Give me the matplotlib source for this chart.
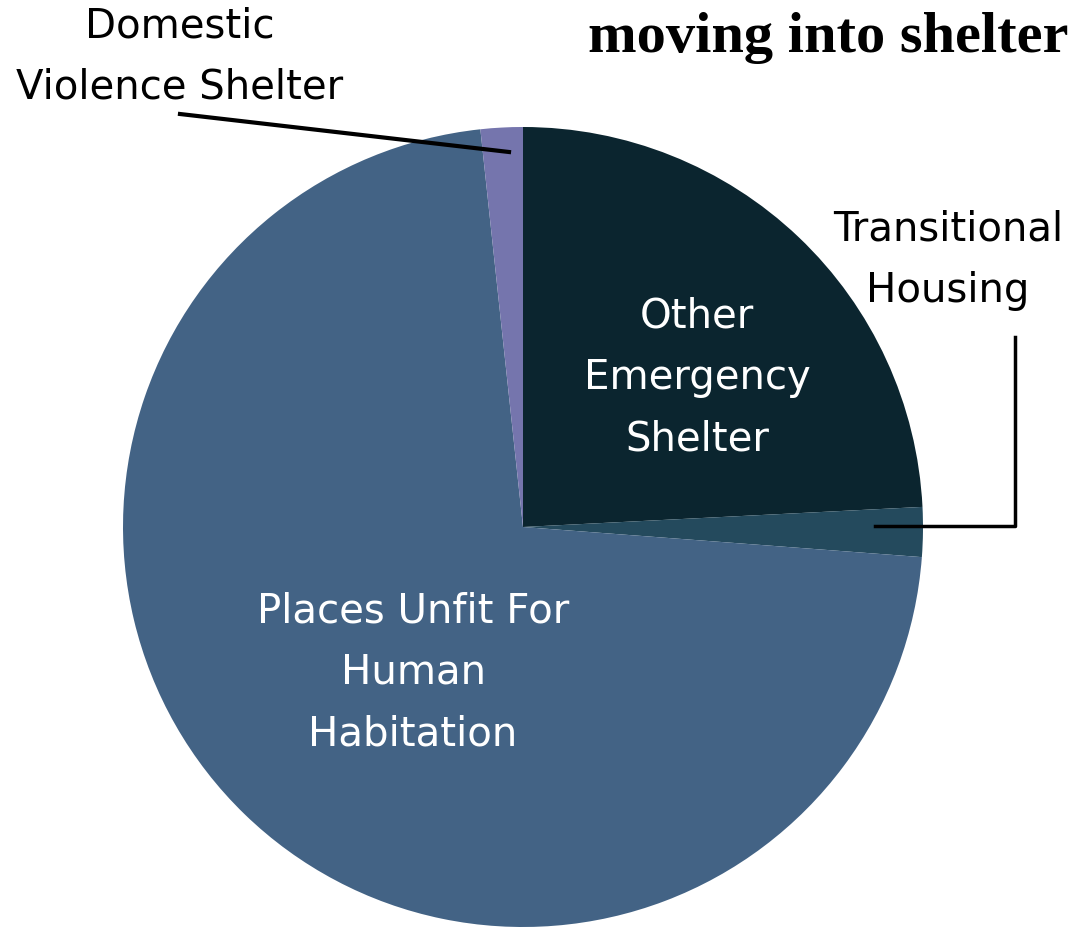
import matplotlib
matplotlib.use('Agg')
import matplotlib.pyplot as plt

# Slice data (percent), clockwise from 12 o'clock
labels = ['Other\nEmergency\nShelter', 'Transitional\nHousing',
          'Places Unfit For\nHuman\nHabitation', 'Domestic\nViolence Shelter']
shares = [24.2, 2.0, 72.1, 1.7]
colors = ['#0b252f', '#244a5d', '#436385', '#7575ad']
title = 'moving into shelter'

W, H = 1071, 928
fig = plt.figure(figsize=(W / 100, H / 100), dpi=100)
ax = fig.add_axes([0, 0, 1, 1])

# pie centre in pixel coords (y measured upward)
cx, cy, r = 523, H - 528, 400
ax.pie(shares, colors=colors, startangle=90, counterclock=False,
       center=(cx, cy), radius=r, wedgeprops=dict(linewidth=0),
       frame=True)
ax.set_xlim(0, W)
ax.set_ylim(0, H)
ax.set_aspect('equal')
ax.axis('off')

font = 'DejaVu Sans'
fs = 29
ls = 1.7

# labels inside the pie
ax.text(697, H - 378, labels[0], color='white', ha='center', va='center',
        fontsize=fs, family=font, linespacing=ls)
ax.text(413, H - 673, labels[2], color='white', ha='center', va='center',
        fontsize=fs, family=font, linespacing=ls)

# outside labels with leader lines
ax.text(948, H - 260, labels[1], color='black', ha='center', va='center',
        fontsize=fs, family=font, linespacing=ls)
ax.plot([875, 1015, 1015], [H - 527, H - 527, H - 338], color='black', lw=2.5)

ax.text(180, H - 57, labels[3], color='black', ha='center', va='center',
        fontsize=fs, family=font, linespacing=ls)
ax.plot([180, 509], [H - 115, H - 153], color='black', lw=3)

ax.text(1068, H - 38, title, ha='right', va='center', fontsize=42,
        family='Liberation Serif', fontweight='bold')

fig.savefig('out.png', dpi=100)
